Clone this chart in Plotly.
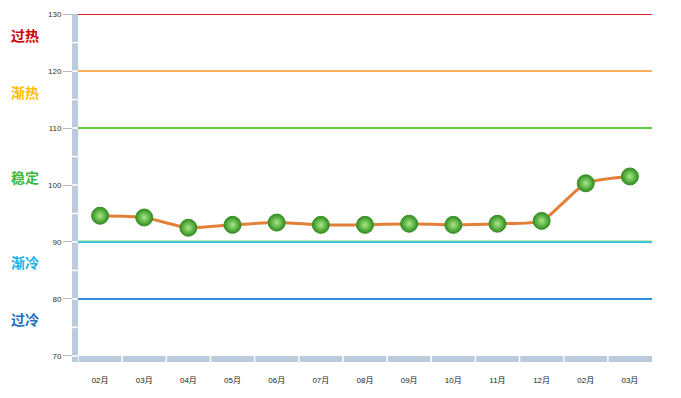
import plotly.graph_objects as go

categories = ["02月", "03月", "04月", "05月", "06月", "07月", "08月", "09月", "10月", "11月", "12月", "02月", "03月"]
values = [94.6, 94.3, 92.5, 93.0, 93.4, 93.0, 93.0, 93.2, 93.0, 93.2, 93.7, 100.3, 101.5]
y_ticks = [70, 80, 90, 100, 110, 120, 130]
band_lines = [130, 120, 110, 90, 80]
band_line_colors = ["#d7262b", "#f8b15a", "#5fcb3e", "#27bfe8", "#2e8fde"]
zone_labels = ["过热", "渐热", "稳定", "渐冷", "过冷"]
zone_label_y = [126.4, 116.4, 101.4, 86.5, 76.5]
zone_label_colors = ["#cc0000", "#ffc000", "#3cb83c", "#1ab0e8", "#1f6fc0"]

# page body has an 8px default margin; compensate so the plot lands where the reference has it
OFF = 8
W, H = 681, 398
pw, ph = 574, 342
ml, mt = 78 - OFF, 14 - OFF
mr = W - ml - pw
mb = H - mt - ph
xs = list(range(len(categories)))
FONT = "Liberation Sans, Noto Sans CJK SC"

fig = go.Figure()
fig.add_trace(go.Scatter(
    x=xs, y=values, mode="lines+markers",
    line=dict(color="#e2803a", width=3, shape="spline", smoothing=0.6),
    marker=dict(size=17, color="#2f8f1c",
                gradient=dict(type="radial", color="#a8e88a"),
                line=dict(color="#3a8f25", width=1)),
    hoverinfo="x+y", showlegend=False,
))

shapes = []
for v, c in zip(band_lines, band_line_colors):
    shapes.append(dict(type="line", xref="paper", yref="y", x0=0, x1=1, y0=v, y1=v,
                       line=dict(color=c, width=2), layer="below"))
shapes.append(dict(type="line", xref="paper", yref="y", x0=0, x1=1, y0=90.2, y1=90.2,
                   line=dict(color="#a6e38f", width=1), layer="below"))

wall_w = 6 / pw
floor_h = 6 / ph
wall_color = "#bccbdc"
shapes.append(dict(type="rect", xref="paper", yref="paper", x0=-wall_w, x1=0, y0=-floor_h, y1=1,
                   fillcolor=wall_color, line=dict(width=0), layer="above"))
shapes.append(dict(type="rect", xref="paper", yref="paper", x0=0, x1=1, y0=-floor_h, y1=0,
                   fillcolor=wall_color, line=dict(width=0), layer="above"))
for v in range(75, 130, 5):
    shapes.append(dict(type="line", xref="paper", yref="y", x0=-wall_w, x1=0, y0=v, y1=v,
                       line=dict(color="white", width=1.5), layer="above"))
for i in range(len(categories)):
    shapes.append(dict(type="line", xref="x", yref="paper", x0=i - 0.5, x1=i - 0.5, y0=-floor_h, y1=0,
                       line=dict(color="white", width=1.5), layer="above"))
shapes.append(dict(type="line", xref="paper", yref="paper", x0=-wall_w, x1=0, y0=0, y1=0,
                   line=dict(color="white", width=1.5), layer="above"))

annotations = []
for t, yv, c in zip(zone_labels, zone_label_y, zone_label_colors):
    annotations.append(dict(text="<b>%s</b>" % t, xref="paper", yref="y", x=-69 / pw, y=yv,
                            xanchor="left", yanchor="middle", showarrow=False,
                            font=dict(family="Noto Sans CJK SC", size=14, color=c)))

fig.update_layout(
    width=W, height=H,
    margin=dict(l=ml, r=mr, t=mt, b=mb, pad=0, autoexpand=False),
    paper_bgcolor="white", plot_bgcolor="white",
    shapes=shapes, annotations=annotations,
    font=dict(family=FONT, size=8, color="#333333"),
    xaxis=dict(range=[-0.5, len(categories) - 0.5], tickvals=xs, ticktext=categories,
               showgrid=False, zeroline=False, showline=False, ticks="", automargin=False,
               ticklabelstandoff=18, tickfont=dict(family=FONT, size=8, color="#222222"), fixedrange=True),
    yaxis=dict(range=[69.98, 130.02], tickvals=y_ticks, showgrid=False, zeroline=False, showline=False,
               ticks="outside", ticklen=14, tickcolor="#bbbbbb", tickwidth=1, automargin=False,
               tickfont=dict(family=FONT, size=8, color="#333333"), fixedrange=True),
)

fig.write_html("out.html")
